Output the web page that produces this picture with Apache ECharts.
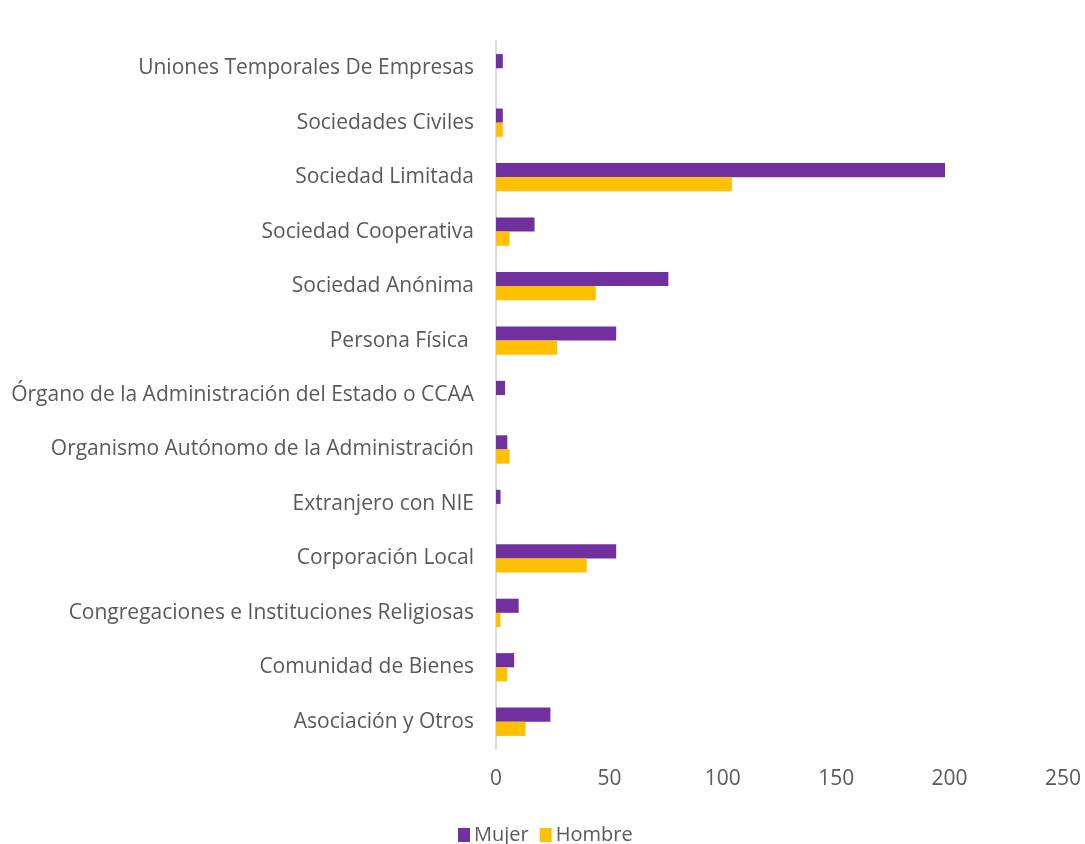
<!DOCTYPE html>
<html>
<head>
<meta charset="utf-8">
<script src="https://cdn.jsdelivr.net/npm/echarts@6/dist/echarts.min.js"></script>
<style>
  html, body { margin: 0; padding: 0; background: #fff; }
  #chart { width: 1085px; height: 844px; }
</style>
</head>
<body>
<div id="chart"></div>
<script>
// categories, bottom to top (as drawn by the category axis)
const categories = [
  'Asociación y Otros',
  'Comunidad de Bienes',
  'Congregaciones e Instituciones Religiosas',
  'Corporación Local',
  'Extranjero con NIE',
  'Organismo Autónomo de la Administración',
  'Órgano de la Administración del Estado o CCAA',
  'Persona Física ',
  'Sociedad Anónima',
  'Sociedad Cooperativa',
  'Sociedad Limitada',
  'Sociedades Civiles',
  'Uniones Temporales De Empresas'
]
const mujer = [24, 8, 10, 53, 2, 5, 4, 53, 76, 17, 198, 3, 3]
const hombre = [13, 5, 2, 40, 0, 6, 0, 27, 44, 6, 104, 3, 0]
const xTicks = [0, 50, 100, 150, 200, 250]

const textColor = '#595959'
const font = 'Open Sans'

const chart = echarts.init(document.getElementById('chart'))
chart.setOption({
  animation: false,
  color: ['#7030a0', '#ffc000'],
  textStyle: { fontFamily: font },
  grid: { left: 496, right: 22, top: 41, bottom: 95, containLabel: false },
  legend: {
    top: 820,
    left: 453,
    itemWidth: 12,
    itemHeight: 14,
    itemGap: 11,
    icon: 'rect',
    textStyle: { color: textColor, fontSize: 20, fontFamily: font, padding: [0, 0, 0, -1] }
  },
  xAxis: {
    type: 'value',
    min: xTicks[0],
    max: xTicks[xTicks.length - 1],
    interval: 50,
    axisLine: { show: false },
    axisTick: { show: false },
    splitLine: { show: false },
    axisLabel: { color: textColor, fontSize: 21, margin: 20, fontFamily: font }
  },
  yAxis: {
    type: 'category',
    data: categories,
    axisLine: { show: true, lineStyle: { color: '#d9d9d9', width: 2 } },
    axisTick: { show: false },
    axisLabel: { color: textColor, fontSize: 21, margin: 22, fontFamily: font }
  },
  series: [
    {
      name: 'Mujer',
      type: 'bar',
      data: mujer,
      barGap: '0%',
      barCategoryGap: '48%'
    },
    {
      name: 'Hombre',
      type: 'bar',
      data: hombre,
      barGap: '0%',
      barCategoryGap: '48%'
    }
  ]
})
</script>
</body>
</html>
